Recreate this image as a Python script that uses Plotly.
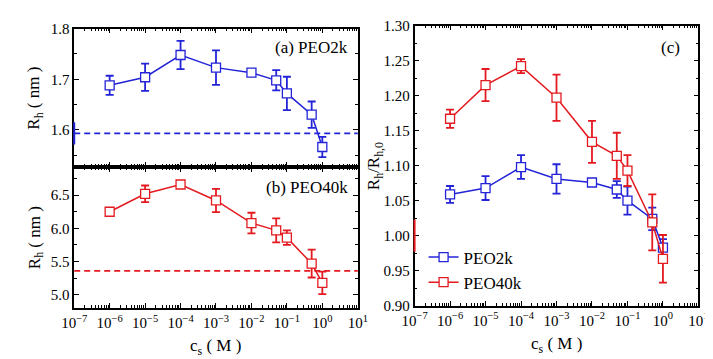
import plotly.graph_objects as go

# ---------------- data ----------------
cs = [1e-6, 1e-5, 1e-4, 1e-3, 1e-2, 5e-2, 1e-1, 5e-1, 1.0]

rh_2k = [1.688, 1.704, 1.748, 1.723, 1.713, 1.698, 1.672, 1.630, 1.566]
rh_2k_err = [0.019, 0.027, 0.028, 0.034, 0.006, 0.020, 0.033, 0.026, 0.020]
rh0_2k = 1.593
rh0_2k_err = 0.022

rh_40k = [6.25, 6.52, 6.66, 6.42, 6.08, 5.97, 5.86, 5.47, 5.18]
rh_40k_err = [0.03, 0.125, 0.03, 0.175, 0.155, 0.18, 0.11, 0.21, 0.17]
rh0_40k = 5.36

ratio_2k = [1.059, 1.068, 1.098, 1.081, 1.076, 1.066, 1.050, 1.024, 0.983]
ratio_2k_err = [0.012, 0.017, 0.017, 0.021, 0.004, 0.012, 0.020, 0.016, 0.012]
ratio_40k = [1.167, 1.215, 1.242, 1.197, 1.134, 1.114, 1.093, 1.019, 0.967]
ratio_40k_err = [0.013, 0.023, 0.010, 0.033, 0.030, 0.033, 0.022, 0.040, 0.034]
ratio_ref = 1.0
ratio_ref_err = 0.023

x_tick_vals = [1e-7, 1e-6, 1e-5, 1e-4, 1e-3, 1e-2, 1e-1, 1e0, 1e1]
x_tick_text = ["10<sup>−7</sup>", "10<sup>−6</sup>", "10<sup>−5</sup>", "10<sup>−4</sup>",
               "10<sup>−3</sup>", "10<sup>−2</sup>", "10<sup>−1</sup>", "10<sup>0</sup>",
               "10<sup>1</sup>"]

BLUE = "#2323d8"
RED = "#e31a1f"
FONT = "Liberation Serif, Times New Roman, serif"

W, H = 713, 359


def px_x(p):
    return p / W


def px_y(p):
    return 1 - p / H


fig = go.Figure()


def add_series(x, y, err, color, xa, ya, name, show):
    fig.add_trace(go.Scatter(
        x=x, y=y, mode="lines+markers", name=name, showlegend=show,
        xaxis=xa, yaxis=ya,
        line=dict(color=color, width=1.5),
        marker=dict(symbol="square", size=9, color="white",
                    line=dict(color=color, width=1.3)),
        error_y=dict(type="data", array=err, color=color, thickness=1.8, width=4),
    ))


add_series(cs, rh_2k, rh_2k_err, BLUE, "x", "y", "PEO2k", False)
add_series(cs, rh_40k, rh_40k_err, RED, "x2", "y2", "PEO40k", False)
add_series(cs, ratio_2k, ratio_2k_err, BLUE, "x3", "y3", "PEO2k", True)
add_series(cs, ratio_40k, ratio_40k_err, RED, "x3", "y3", "PEO40k", True)

# reference lines / clipped reference error bars
shapes = [
    dict(type="line", xref="x domain", yref="y", x0=0, x1=1, y0=rh0_2k, y1=rh0_2k,
         line=dict(color=BLUE, width=1.6, dash="6px,4px")),
    dict(type="line", xref="x2 domain", yref="y2", x0=0, x1=1, y0=rh0_40k, y1=rh0_40k,
         line=dict(color=RED, width=1.6, dash="6px,4px")),
    dict(type="line", xref="x domain", yref="y", x0=0, x1=0,
         y0=rh0_2k - rh0_2k_err, y1=rh0_2k + rh0_2k_err,
         line=dict(color=BLUE, width=2), layer="above"),
    dict(type="line", xref="x3 domain", yref="y3", x0=0, x1=0,
         y0=ratio_ref - ratio_ref_err, y1=ratio_ref + ratio_ref_err,
         line=dict(color=RED, width=2), layer="above"),
]

tickfont = dict(family=FONT, size=15, color="black")

xcommon = dict(type="log", range=[-7, 1], tickvals=x_tick_vals, ticktext=x_tick_text,
               ticks="inside", ticklen=5, tickwidth=1.2, tickcolor="black",
               showline=True, linecolor="black", linewidth=1.5, mirror="allticks",
               showgrid=False, zeroline=False, tickfont=tickfont,
               minor=dict(ticks="inside", ticklen=3, tickwidth=1, tickcolor="black",
                          dtick="D1", showgrid=False))

ycommon = dict(ticks="inside", ticklen=5, tickwidth=1.2, tickcolor="black",
               showline=True, linecolor="black", linewidth=1.5, mirror="allticks",
               showgrid=False, zeroline=False, tickfont=tickfont)

left_dom = [px_x(55), px_x(348)]
right_dom = [px_x(406.7), px_x(700)]

fig.update_layout(
    width=W, height=H, margin=dict(l=0, r=0, t=0, b=0),
    paper_bgcolor="white", plot_bgcolor="white",
    font=dict(family=FONT, color="black"),
    xaxis=dict(**xcommon, domain=left_dom, anchor="y", showticklabels=False),
    yaxis=dict(**ycommon, domain=[px_y(158.3), px_y(13.3)], anchor="x",
               range=[1.526, 1.8], tick0=1.6, dtick=0.1, tickformat=".1f",
               minor=dict(ticks="inside", ticklen=3, tickcolor="black", tick0=1.6, dtick=0.05)),
    xaxis2=dict(**xcommon, domain=left_dom, anchor="y2"),
    yaxis2=dict(**ycommon, domain=[px_y(305.7), px_y(158.3)], anchor="x2",
                range=[4.8, 6.92], tick0=5.0, dtick=0.5, tickformat=".1f",
                minor=dict(ticks="inside", ticklen=3, tickcolor="black", tick0=5.0, dtick=0.25)),
    xaxis3=dict(**xcommon, domain=right_dom, anchor="y3"),
    yaxis3=dict(**ycommon, domain=[px_y(303.3), px_y(10)], anchor="x3",
                range=[0.9, 1.3], tick0=0.9, dtick=0.05, tickformat=".2f",
                minor=dict(ticks="inside", ticklen=3, tickcolor="black", tick0=0.9, dtick=0.025)),
    shapes=shapes,
    legend=dict(x=px_x(416), y=px_y(234), xanchor="left", yanchor="top",
                bgcolor="rgba(0,0,0,0)", font=dict(family=FONT, size=17, color="black"),
                tracegroupgap=0),
)

ann = dict(showarrow=False, xref="paper", yref="paper",
           font=dict(family=FONT, size=17, color="black"))
fig.add_annotation(text="(a) PEO2k", x=px_x(340), y=px_y(33), xanchor="right", yanchor="middle", **ann)
fig.add_annotation(text="(b) PEO40k", x=px_x(340), y=px_y(180), xanchor="right", yanchor="middle", **ann)
fig.add_annotation(text="(c)", x=px_x(683), y=px_y(33), xanchor="right", yanchor="middle", **ann)
fig.add_annotation(text="R<sub>h</sub> ( nm )", x=px_x(15), y=px_y(86), textangle=-90,
                   xanchor="center", yanchor="middle", **ann)
fig.add_annotation(text="R<sub>h</sub> ( nm )", x=px_x(15), y=px_y(232), textangle=-90,
                   xanchor="center", yanchor="middle", **ann)
fig.add_annotation(text="R<sub>h</sub>/R<sub>h,0</sub>", x=px_x(366), y=px_y(157), textangle=-90,
                   xanchor="center", yanchor="middle", **ann)
fig.add_annotation(text="c<sub>s</sub> ( M )", x=px_x(201), y=px_y(346), xanchor="center", yanchor="middle", **ann)
fig.add_annotation(text="c<sub>s</sub> ( M )", x=px_x(553), y=px_y(344), xanchor="center", yanchor="middle", **ann)

fig.write_html("out.html")
